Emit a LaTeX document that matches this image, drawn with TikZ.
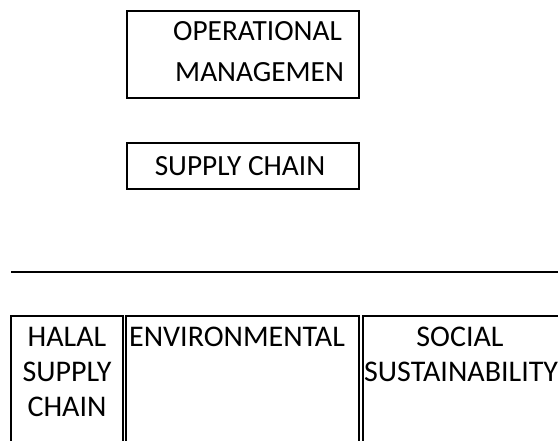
\documentclass[tikz,border=0pt]{standalone}
\usepackage{fontspec}
\setmainfont{Carlito}
\tikzset{
  box/.style={draw, line width=2pt, inner sep=0pt},
  word/.style={anchor=base west, inner sep=0pt, font=\fontsize{30}{36}\selectfont},
  cword/.style={anchor=base, inner sep=0pt, font=\fontsize{30}{36}\selectfont},
  small/.style={font=\fontsize{29.3}{35}\selectfont}
}
\begin{document}
\begin{tikzpicture}[x=1pt,y=-1pt]
        \useasboundingbox (0,0) rectangle (558,441);
        % upper boxes
        \node[box, minimum width=232pt, minimum height=87pt] (opbox) at (243,54.5) {};
        \node[word, small] (op1) at (173,41) {OPERATIONAL};
        \node[word, small] (op2) at (175,82) {MANAGEMEN};
        \node[box, minimum width=232pt, minimum height=46pt] (scbox) at (243,166) {};
        \node[cword, small] (sc) at (240,176) {SUPPLY CHAIN};
        % rule
        \coordinate (ruleL) at (11,272);
        \coordinate (ruleR) at (558,272);
        \draw[line width=2pt] (ruleL) -- (ruleR);
        % lower boxes
        \node[box, minimum width=112pt, minimum height=144pt] (halbox) at (67,388) {};
        \node[box, minimum width=233pt, minimum height=144pt] (envbox) at (242.5,388) {};
        \node[box, minimum width=212pt, minimum height=144pt] (socbox) at (469,388) {};
        \foreach \w [count=\i] in {HALAL,SUPPLY,CHAIN} {
            \node[cword] (hal\i) at (67,312+35*\i) {\w};
        }
        \node[word] (env) at (129,347) {ENVIRONMENTAL};
        \node[cword] (soc1) at (460,347) {SOCIAL};
        \node[word] (soc2) at (364,382) {SUSTAINABILITY};
    \end{tikzpicture}
\end{document}
